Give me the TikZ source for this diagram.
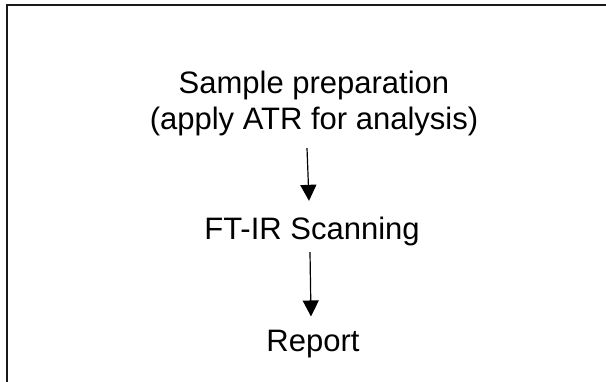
\documentclass[tikz,border=0pt]{standalone}
\usepackage{fontspec}
\setmainfont{Liberation Sans}
\usetikzlibrary{arrows.meta}
\begin{document}
\begin{tikzpicture}[x=1pt,y=-1pt,
  lbl/.style={inner sep=0pt,anchor=base,font=\fontsize{31}{36}\selectfont,align=center},
  arr/.style={line width=1.2pt,-{Triangle[length=16pt,width=16pt]}},
  frame/.style={line width=1.8pt,draw=black!90}]
\useasboundingbox (0,0) rectangle (606,382);
\draw[frame] (7,383) -- (7,5) -- (607,5);
\node[lbl] (prep) at (314,130) {Sample preparation\\(apply ATR for analysis)};
\node[lbl] (scan) at (312,240) {FT-IR Scanning};
\node[lbl] (rep) at (313,352) {Report};
\draw[arr] ([xshift=-7pt,yshift=-11.5pt]prep.south) -- ([xshift=-3pt,yshift=16.5pt]scan.north);
\draw[arr] ([xshift=-2pt,yshift=-5.5pt]scan.south) -- ([xshift=-2pt,yshift=14pt]rep.north);
\end{tikzpicture}
\end{document}
